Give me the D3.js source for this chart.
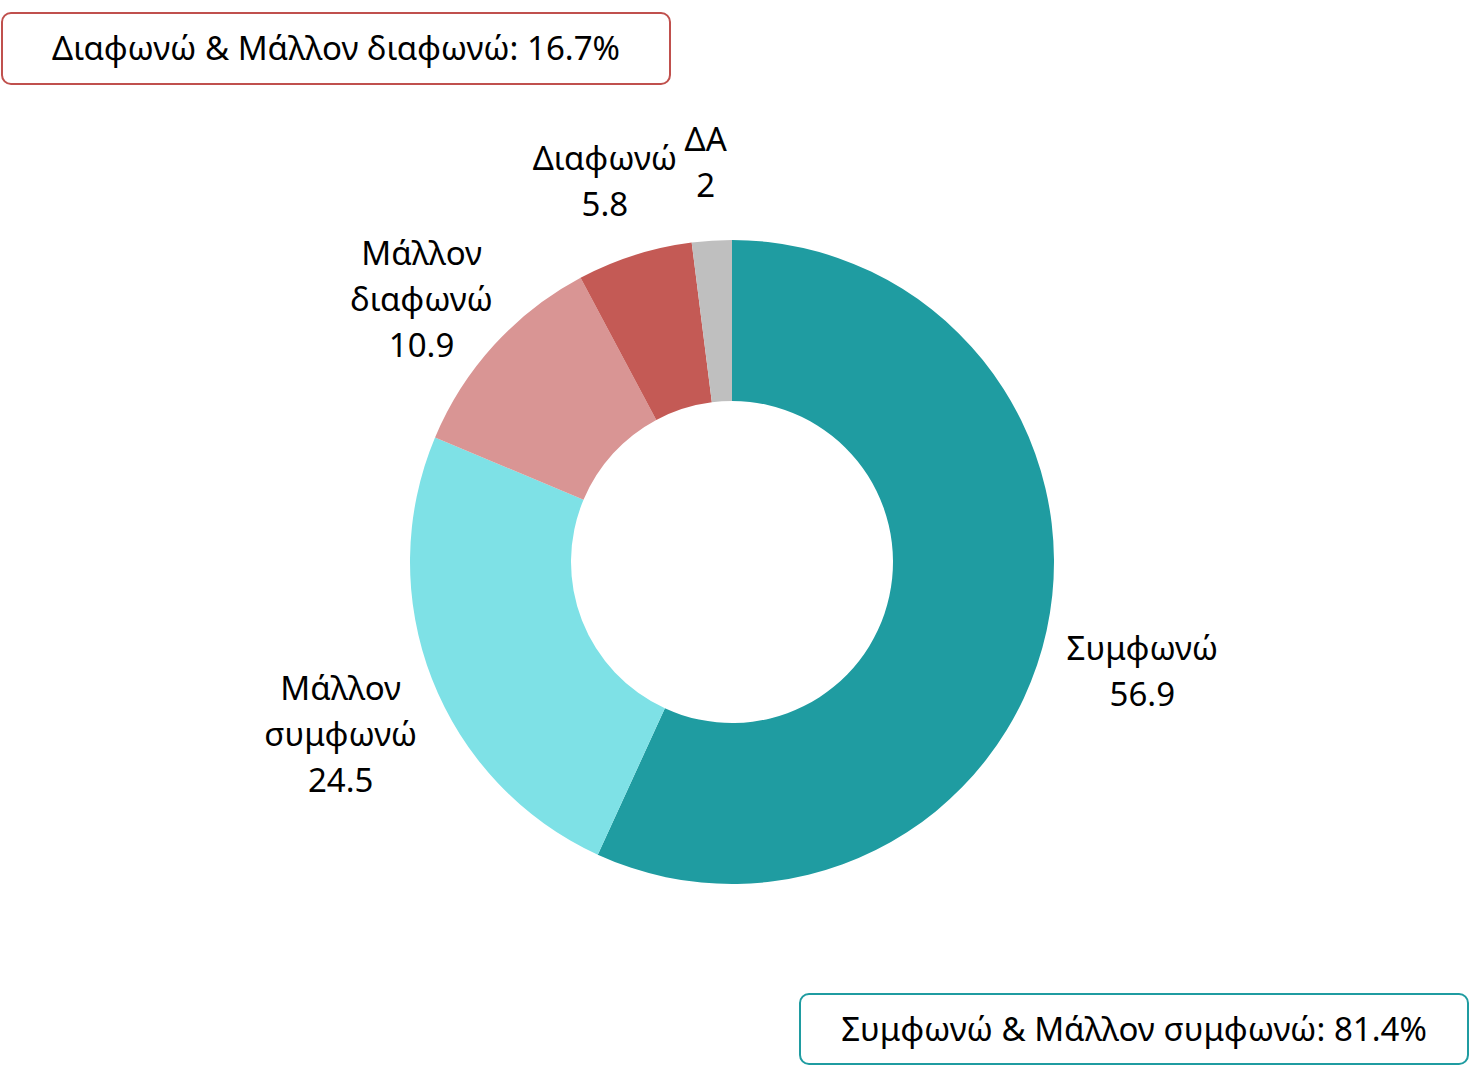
<!DOCTYPE html>
<html>
<head>
<meta charset="utf-8">
<script src="https://cdn.jsdelivr.net/npm/d3@7"></script>
<style>
  body { margin: 0; background: #fff; }
  text { font-family: "Noto Sans", sans-serif; fill: #000; }
</style>
</head>
<body>
<div id="viz"></div>
<script>
var categories = ['Συμφωνώ', 'Μάλλον συμφωνώ', 'Μάλλον διαφωνώ', 'Διαφωνώ', 'ΔΑ'],
    labelLines = [['Συμφωνώ'], ['Μάλλον', 'συμφωνώ'], ['Μάλλον', 'διαφωνώ'], ['Διαφωνώ'], ['ΔΑ']],
    values = [56.9, 24.5, 10.9, 5.8, 2],
    colors = ['#1f9ca1', '#7ee1e6', '#d99594', '#c45a55', '#bfbfbf'],
    summaryTexts = ['Διαφωνώ & Μάλλον διαφωνώ: 16.7%', 'Συμφωνώ & Μάλλον συμφωνώ: 81.4%'];

var width = 1473, height = 1066,
    cx = 732, cy = 562,
    outerR = 322, innerR = 161,
    labelR = 420, labelDy = 20, lineH = 46, fontSize = 33;

var svg = d3.select('#viz').append('svg')
    .attr('width', width)
    .attr('height', height);

var pie = d3.pie().sort(null).value(function (d) { return d; });
var arc = d3.arc().innerRadius(innerR).outerRadius(outerR);
var labelArc = d3.arc().innerRadius(labelR).outerRadius(labelR);

var g = svg.append('g').attr('transform', 'translate(' + cx + ',' + cy + ')');
var arcs = pie(values);

g.selectAll('path.slice')
    .data(arcs)
    .enter().append('path')
    .attr('class', 'slice')
    .attr('d', arc)
    .attr('fill', function (d, i) { return colors[i]; });

// labels: category name lines + value, centred on the label arc
var labels = g.selectAll('text.lbl')
    .data(arcs)
    .enter().append('text')
    .attr('class', 'lbl')
    .attr('text-anchor', 'middle')
    .style('font-size', fontSize + 'px')
    .attr('transform', function (d) {
        var c = labelArc.centroid(d);
        return 'translate(' + c[0] + ',' + (c[1] + labelDy) + ')';
    });

labels.each(function (d, i) {
    var lines = labelLines[i].concat([String(values[i])]);
    var t = d3.select(this);
    var y0 = -(lines.length - 1) * lineH / 2 + fontSize * 0.35;
    lines.forEach(function (s, j) {
        t.append('tspan').attr('x', 0).attr('y', y0 + j * lineH).text(s);
    });
});

// summary boxes
var boxes = [
    { x: 2, y: 13, w: 668, h: 71, stroke: '#c0504d', text: summaryTexts[0] },
    { x: 800, y: 994, w: 668, h: 70, stroke: '#1f9ca1', text: summaryTexts[1] }
];

var bg = svg.selectAll('g.box')
    .data(boxes)
    .enter().append('g')
    .attr('class', 'box');

bg.append('rect')
    .attr('x', function (d) { return d.x; })
    .attr('y', function (d) { return d.y; })
    .attr('width', function (d) { return d.w; })
    .attr('height', function (d) { return d.h; })
    .attr('rx', 9)
    .attr('fill', '#fff')
    .attr('stroke', function (d) { return d.stroke; })
    .attr('stroke-width', 2);

bg.append('text')
    .attr('x', function (d) { return d.x + d.w / 2; })
    .attr('y', function (d) { return d.y + d.h / 2 + fontSize * 0.35; })
    .attr('text-anchor', 'middle')
    .style('font-size', fontSize + 'px')
    .text(function (d) { return d.text; });
</script>
</body>
</html>
